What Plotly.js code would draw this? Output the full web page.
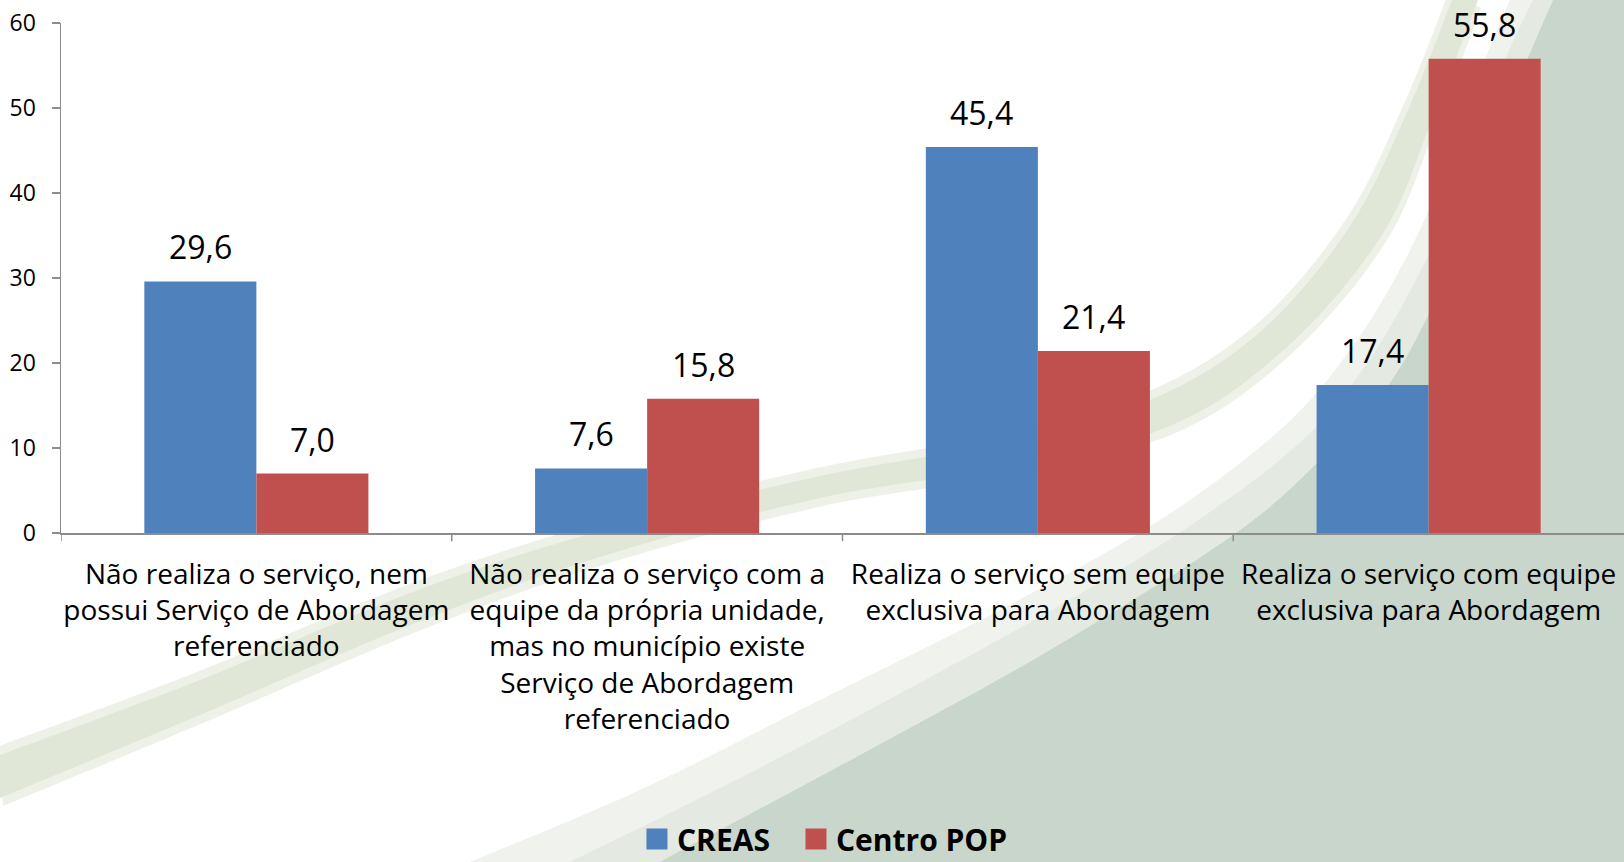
<!DOCTYPE html>
<html>
<head>
<meta charset="utf-8">
<script src="https://cdn.plot.ly/plotly-3.0.1.min.js"></script>
<style>
  html, body { margin: 0; padding: 0; background: #ffffff; }
  #chart { width: 1624px; height: 862px; }
</style>
</head>
<body>
<div id="chart"></div>
<script>
// ---------------- DATA ----------------
const categories = [
  "Não realiza o serviço, nem<br>possui Serviço de Abordagem<br>referenciado",
  "Não realiza o serviço com a<br>equipe da própria unidade,<br>mas no município existe<br>Serviço de Abordagem<br>referenciado",
  "Realiza o serviço sem equipe<br>exclusiva para Abordagem",
  "Realiza o serviço com equipe<br>exclusiva para Abordagem"
];
const seriesNames = ["CREAS", "Centro POP"];
const creasValues = [29.6, 7.6, 45.4, 17.4];
const centroPopValues = [7.0, 15.8, 21.4, 55.8];
const yTickValues = [0, 10, 20, 30, 40, 50, 60];

// ---------------- STYLE ----------------
const COLORS = ["#4f81bd", "#c0504d"];
const FONT = "'Open Sans', sans-serif";
const BARGAP = 0.4265;

// figure geometry (pixels) used only to place the decorative background
const W = 1624, H = 862;
const M = { l: 61, r: 0, t: 23, b: 329, autoexpand: false };
const PL = M.l, PR = W - M.r, PT = M.t, PB = H - M.b;
const toPX = p => (p - PL) / (PR - PL);
const toPY = p => (PB - p) / (PB - PT);

function smoothPath(pts) {
  // Catmull-Rom -> cubic bezier, in paper coordinates
  const P = pts.map(([x, y]) => [toPX(x), toPY(y)]);
  let d = "M" + P[0][0] + "," + P[0][1];
  for (let i = 0; i < P.length - 1; i++) {
    const p0 = P[i - 1] || P[i], p1 = P[i], p2 = P[i + 1], p3 = P[i + 2] || P[i + 1];
    const c1 = [p1[0] + (p2[0] - p0[0]) / 6, p1[1] + (p2[1] - p0[1]) / 6];
    const c2 = [p2[0] - (p3[0] - p1[0]) / 6, p2[1] - (p3[1] - p1[1]) / 6];
    d += " C" + c1[0] + "," + c1[1] + " " + c2[0] + "," + c2[1] + " " + p2[0] + "," + p2[1];
  }
  return d;
}
function regionPath(curve, tail) {
  let d = smoothPath(curve);
  tail.forEach(([x, y]) => { d += " L" + toPX(x) + "," + toPY(y); });
  return d + " Z";
}
function bandPath(upper, lower) {
  return smoothPath(upper) + smoothPath(lower).replace(/^M/, " L") + " Z";
}
function widen(upper, lower, k) {
  return [upper.map(([x, y]) => [x - k * 0.4, y - k]), lower.map(([x, y]) => [x + k * 0.4, y + k])];
}

// decorative swooshes (background only)
const haloCurve = [[470,862],[640,790],[820,700],[1000,610],[1160,520],[1280,430],[1350,350],[1405,260],[1450,160],[1485,60],[1510,0]];
const haloInner = [[570,862],[740,778],[910,688],[1090,588],[1210,512],[1305,438],[1368,362],[1422,268],[1468,165],[1503,65],[1533,0]];
const sageCurve = [[660,862],[860,755],[1050,650],[1236,533],[1330,450],[1392,380],[1440,290],[1480,190],[1515,90],[1553,0]];
const bandUpper = [[0,755],[200,680],[418,590],[600,531],[820,476],[1000,443],[1150,400],[1260,332],[1350,226],[1408,110],[1452,0]];
const bandLower = [[1478,0],[1432,120],[1382,235],[1287,347],[1170,426],[1000,468],[820,498],[600,557],[418,622],[200,715],[0,798]];
const glow = widen(bandUpper, bandLower, 8);

const bg = (path, color) => ({ type: "path", xref: "paper", yref: "paper", layer: "below",
  line: { width: 0 }, fillcolor: color, path: path });

const shapes = [
  bg(regionPath(haloCurve, [[1624,0],[1624,862]]), "#f0f2ed"),
  bg(regionPath(haloInner, [[1624,0],[1624,862]]), "#e4eae2"),
  bg(bandPath(glow[0], glow[1]), "#eef1e8"),
  bg(bandPath(bandUpper, bandLower), "#e1e7d7"),
  bg(regionPath(sageCurve, [[1624,0],[1624,862]]), "#c9d6cb")
];

// ---------------- TRACES ----------------
const idx = categories.map((_, i) => i);
const traces = [
  { type: "bar", name: seriesNames[0], x: idx, y: creasValues,
    marker: { color: COLORS[0] }, showlegend: false, hoverinfo: "y" },
  { type: "bar", name: seriesNames[1], x: idx, y: centroPopValues,
    marker: { color: COLORS[1] }, showlegend: false, hoverinfo: "y" },
  // legend entries
  { type: "scatter", mode: "markers", name: seriesNames[0], x: [null], y: [null], legendwidth: 114,
    marker: { symbol: "square", size: 16, color: COLORS[0], line: { width: 5, color: COLORS[0] } }, hoverinfo: "skip" },
  { type: "scatter", mode: "markers", name: seriesNames[1], x: [null], y: [null],
    marker: { symbol: "square", size: 16, color: COLORS[1], line: { width: 5, color: COLORS[1] } }, hoverinfo: "skip" }
];

// value labels
const fmt = v => v.toFixed(1).replace(".", ",");
const half = (1 - BARGAP) / 4;
const annotations = [];
[creasValues, centroPopValues].forEach((vals, s) => {
  vals.forEach((v, i) => {
    annotations.push({
      x: i + (s === 0 ? -half : half), y: v, xref: "x", yref: "y",
      text: fmt(v), showarrow: false, yanchor: "bottom", yshift: 11,
      font: { family: FONT, size: 32, color: "#000000" }
    });
  });
});

const layout = {
  width: W, height: H,
  margin: M,
  paper_bgcolor: "#ffffff",
  plot_bgcolor: "rgba(0,0,0,0)",
  font: { family: FONT, color: "#000000" },
  barmode: "group",
  bargap: BARGAP,
  bargroupgap: 0,
  showlegend: true,
  legend: {
    orientation: "h", xanchor: "left", x: 0.3685, yanchor: "middle", y: -0.600,
    font: { family: FONT, size: 30, color: "#000000", weight: "bold" },
    bgcolor: "rgba(0,0,0,0)", itemclick: false, itemdoubleclick: false
  },
  xaxis: {
    type: "linear", automargin: false,
    range: [-0.5, categories.length - 0.5],
    tickmode: "array",
    tickvals: idx,
    ticktext: categories,
    ticks: "", showgrid: false, zeroline: false,
    ticklabelstandoff: 15,
    showline: true, linecolor: "#8c8c8c", linewidth: 2,
    tickfont: { family: FONT, size: 28, color: "#000000" },
    fixedrange: true
  },
  yaxis: {
    automargin: false,
    range: [0, 60],
    tickmode: "array", tickvals: yTickValues,
    ticks: "outside", ticklen: 8, tickcolor: "#8c8c8c", tickwidth: 1.5,
    ticklabelstandoff: 11,
    showline: true, linecolor: "#8c8c8c", linewidth: 1.5,
    showgrid: false, zeroline: false,
    tickfont: { family: FONT, size: 23, color: "#000000" },
    fixedrange: true
  },
  shapes: shapes.concat(
    // category boundary ticks on the x axis
    [-0.5, 0.5, 1.5, 2.5].map(b => ({
      type: "line", xref: "x", yref: "paper", x0: b, x1: b, y0: 0, y1: -0.016,
      line: { color: "#8c8c8c", width: 1.5 }
    }))
  ),
  annotations: annotations
};

Plotly.newPlot("chart", traces, layout, { displayModeBar: false, staticPlot: true });
</script>
</body>
</html>
